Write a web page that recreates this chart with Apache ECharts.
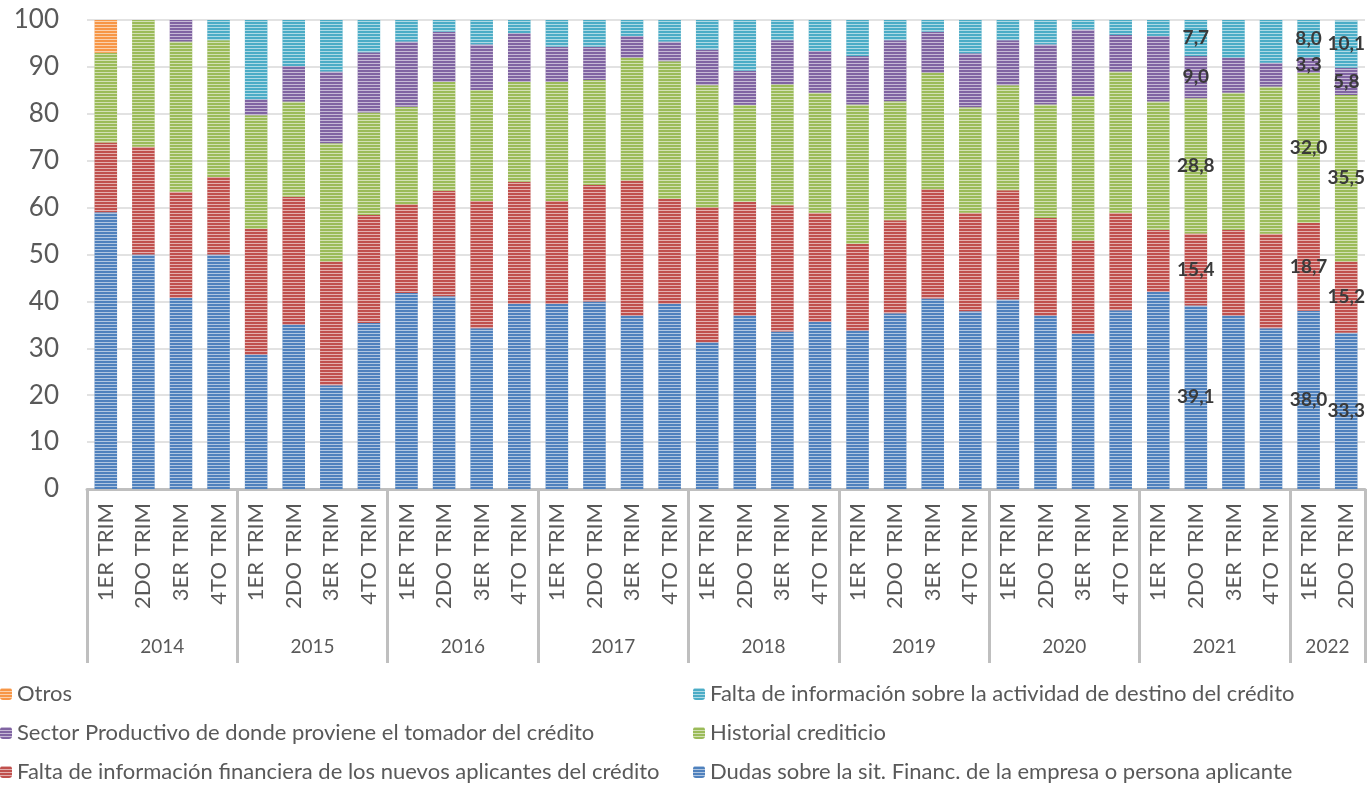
<!DOCTYPE html>
<html>
<head>
<meta charset="utf-8">
<script src="https://cdn.jsdelivr.net/npm/echarts@6/dist/echarts.min.js"></script>
<style>
  html, body { margin: 0; padding: 0; background: #fff; }
  #chart { width: 1372px; height: 785px; }
</style>
</head>
<body>
<div id="chart"></div>
<script>
// trimestres y años
const quarters = ['1ER TRIM', '2DO TRIM', '3ER TRIM', '4TO TRIM'];
const years = ['2014', '2015', '2016', '2017', '2018', '2019', '2020', '2021', '2022'];
const quartersPerYear = [4, 4, 4, 4, 4, 4, 4, 4, 2];

// porcentajes por serie (de abajo hacia arriba)
const dudas = [59.0, 50.0, 40.7, 50.0, 28.7, 35.1, 22.1, 35.4, 41.8, 41.1, 34.3, 39.5, 39.5, 40.0, 37.0, 39.5, 31.3,
  37.0, 33.6, 35.6, 33.8, 37.5, 40.6, 37.9, 40.4, 37.0, 33.1, 38.1, 42.0, 39.1, 37.0, 34.3, 38.0, 33.3];
const faltaFinanciera = [14.9, 23.0, 22.7, 16.5, 26.8, 27.2, 26.4, 23.0, 18.9, 22.5, 27.1, 26.0, 21.9, 24.8, 28.8, 22.4, 28.8,
  24.2, 26.9, 23.3, 18.5, 19.8, 23.3, 21.0, 23.3, 20.8, 19.9, 20.8, 13.3, 15.4, 18.2, 20.1, 18.7, 15.2];
const historial = [19.1, 27.0, 32.0, 29.2, 24.2, 20.3, 25.2, 21.9, 20.8, 23.2, 23.7, 21.3, 25.4, 22.4, 26.2, 29.3, 26.0,
  20.7, 25.8, 25.6, 29.7, 25.4, 24.9, 22.5, 22.4, 24.2, 30.8, 30.1, 27.3, 28.8, 29.3, 31.4, 32.0, 35.5];
const sector = [0, 0, 4.6, 0, 3.4, 7.6, 15.3, 12.8, 13.9, 10.7, 9.7, 10.4, 7.5, 7.1, 4.6, 4.2, 7.6,
  7.3, 9.4, 8.9, 10.3, 13.0, 8.7, 11.5, 9.6, 12.8, 14.2, 7.8, 14.0, 9.0, 7.5, 5.1, 3.3, 5.8];
const faltaActividad = [0, 0, 0, 4.3, 16.9, 9.8, 11.0, 6.9, 4.6, 2.5, 5.2, 2.8, 5.7, 5.7, 3.4, 4.6, 6.3,
  10.8, 4.3, 6.6, 7.7, 4.3, 2.5, 7.1, 4.3, 5.2, 2.0, 3.2, 3.4, 7.7, 8.0, 9.1, 8.0, 10.1];
const otros = [7.0, 0, 0, 0, 0, 0, 0, 0, 0, 0, 0, 0, 0, 0, 0, 0, 0,
  0, 0, 0, 0, 0, 0, 0, 0, 0, 0, 0, 0, 0, 0, 0, 0, 0];

// barras con etiqueta de dato (2021 2DO, 2022 1ER, 2022 2DO)
const labeledIdx = [29, 32, 33];
const yTicks = [0, 10, 20, 30, 40, 50, 60, 70, 80, 90, 100];

const names = {
  dudas: 'Dudas sobre la sit. Financ. de la empresa o persona aplicante',
  financiera: 'Falta de información financiera de los nuevos aplicantes del crédito',
  historial: 'Historial crediticio',
  sector: 'Sector Productivo de donde proviene el tomador del crédito',
  actividad: 'Falta de información sobre la actividad de destino del crédito',
  otros: 'Otros'
};
// orden de la leyenda: dos columnas, tres filas
const legendCols = [
  [names.otros, names.sector, names.financiera],
  [names.actividad, names.historial, names.dudas]
];

// categorias y posiciones de inicio/centro de cada año
const categories = [];
const groupStart = [];
quartersPerYear.forEach((n, k) => {
  groupStart.push(categories.length);
  for (let q = 0; q < n; q++) categories.push(years[k] + ' ' + quarters[q]);
});
const yearCenters = {};
quartersPerYear.forEach((n, k) => { yearCenters[groupStart[k] + n / 2] = years[k]; });

const FONT = 'Lato, "Open Sans", sans-serif';
const stripes = {
  symbol: 'rect',
  symbolSize: 1,
  color: 'rgba(255,255,255,0.55)',
  dashArrayX: [1, 0],
  dashArrayY: [1, 2],
  rotation: 0
};

function mkSeries(name, data, color) {
  return {
    name: name,
    type: 'bar',
    stack: 'total',
    barCategoryGap: '40%',
    itemStyle: { color: color, decal: stripes },
    label: {
      show: false,
      position: 'inside',
      color: '#3a3a3a',
      fontSize: 19,
      fontWeight: 'bold',
      fontFamily: FONT,
      formatter: p => p.value.toFixed(1).replace('.', ',')
    },
    data: data.map((v, i) => (labeledIdx.includes(i) && v > 0) ? { value: v, label: { show: true } } : v)
  };
}

const legends = [];
legendCols.forEach((col, c) => {
  col.forEach((nm, r) => {
    legends.push({
      left: c === 0 ? 0 : 693,
      top: 683 + r * 39,
      padding: 0,
      itemWidth: 12, itemHeight: 12, itemGap: 4,
      textStyle: { fontSize: 22, color: '#595959', fontFamily: FONT },
      data: [nm]
    });
  });
});

const chart = echarts.init(document.getElementById('chart'));
chart.setOption({
  animation: false,
  textStyle: { fontFamily: FONT },
  grid: { left: 87, right: 7, top: 20, bottom: 296 },
  legend: legends,
  xAxis: [
    {
      type: 'category',
      data: categories,
      axisLine: { lineStyle: { color: '#bfbfbf', width: 3 } },
      axisTick: {
        show: true,
        length: 174,
        lineStyle: { color: '#bfbfbf', width: 3 },
        interval: (i) => groupStart.includes(i) || i === categories.length
      },
      axisLabel: {
        interval: 0,
        rotate: 90,
        margin: 14,
        fontSize: 22,
        color: '#595959',
        fontFamily: FONT,
        formatter: v => v.split(' ').slice(1).join(' ')
      }
    },
    {
      type: 'value',
      min: 0,
      max: categories.length,
      interval: 1,
      position: 'bottom',
      offset: 140,
      axisLine: { show: false },
      axisTick: { show: false },
      splitLine: { show: false },
      axisLabel: {
        margin: 8,
        fontSize: 19,
        color: '#595959',
        fontFamily: FONT,
        showMinLabel: true,
        showMaxLabel: true,
        formatter: v => yearCenters[v] || ''
      }
    }
  ],
  yAxis: {
    type: 'value',
    min: yTicks[0],
    max: yTicks[yTicks.length - 1],
    interval: 10,
    axisLine: { show: false },
    axisTick: { show: false },
    splitLine: { lineStyle: { color: '#d9d9d9', width: 1.5 } },
    axisLabel: { fontSize: 26, color: '#595959', margin: 28, fontFamily: FONT }
  },
  series: [
    mkSeries(names.dudas, dudas, '#4F81BD'),
    mkSeries(names.financiera, faltaFinanciera, '#C0504D'),
    mkSeries(names.historial, historial, '#9BBB59'),
    mkSeries(names.sector, sector, '#8064A2'),
    mkSeries(names.actividad, faltaActividad, '#4BACC6'),
    mkSeries(names.otros, otros, '#F79646')
  ]
});
</script>
</body>
</html>
